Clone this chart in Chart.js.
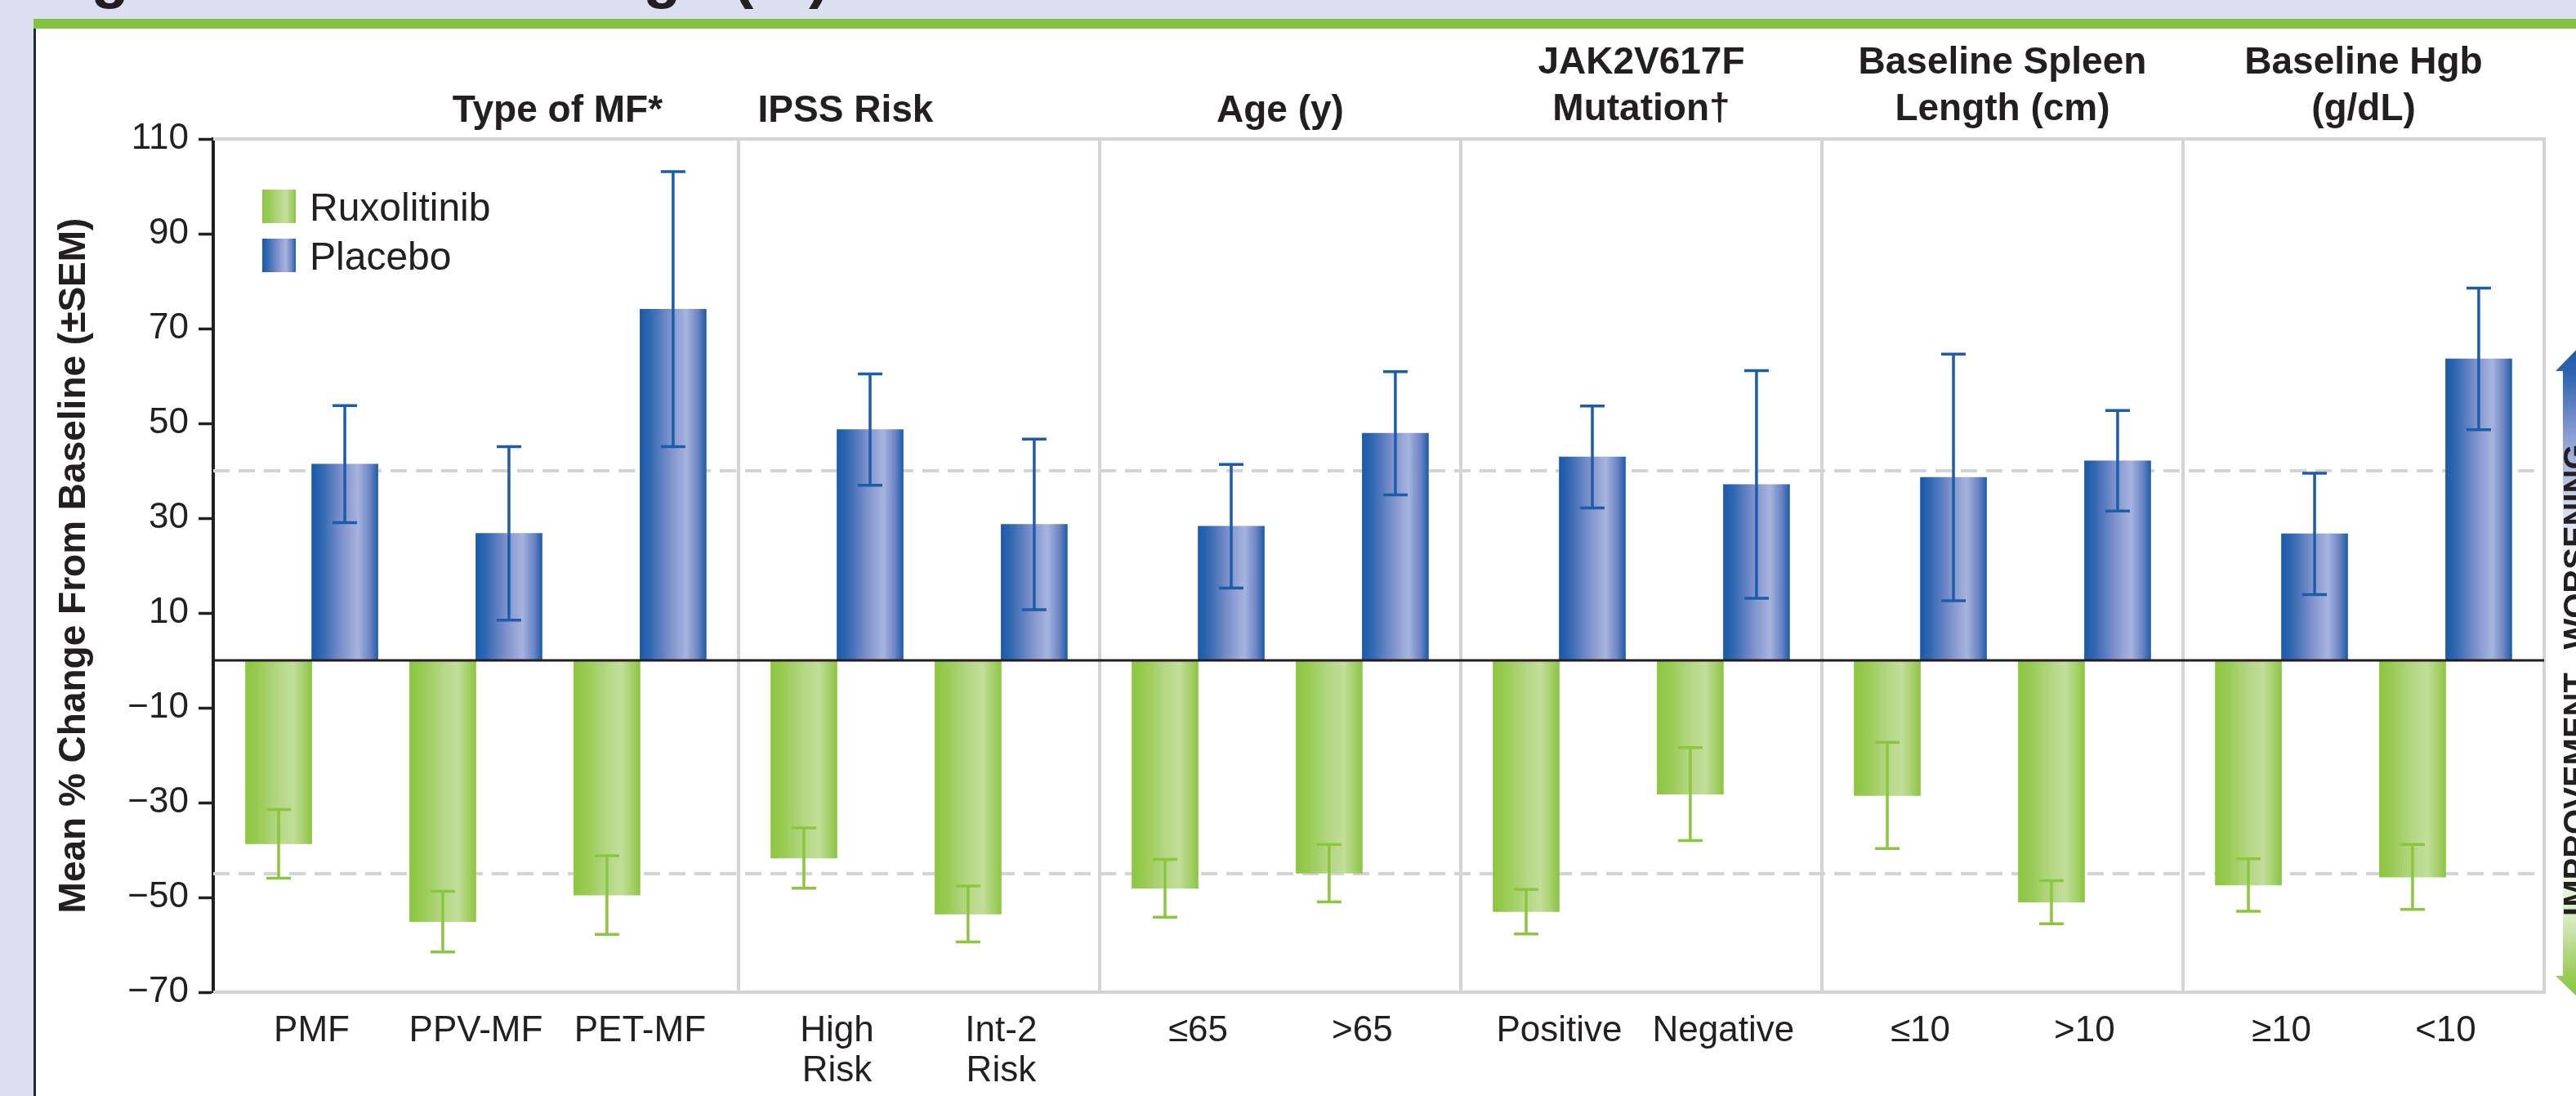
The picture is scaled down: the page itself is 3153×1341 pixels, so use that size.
<!DOCTYPE html>
<html>
<head>
<meta charset="utf-8">
<script src="https://cdn.jsdelivr.net/npm/chart.js@4.4.1/dist/chart.umd.min.js"></script>
<style>
  html, body { margin: 0; padding: 0; }
  body { width: 3153px; height: 1341px; overflow: hidden; background: #dbdff0; position: relative; }
  #band { position: absolute; left: 41px; top: 23px; right: 0; height: 12px; background: #84c341; }
  #panel { position: absolute; left: 41px; top: 35px; right: 0; bottom: 0; background: #fff; border-left: 3px solid #1d2b3c; }
  canvas { position: absolute; left: 0; top: 0; }
</style>
</head>
<body>
<div id="band"></div>
<div id="panel"></div>
<canvas id="myChart" width="3153" height="1341"></canvas>
<script>
var categories = ['PMF', 'PPV-MF', 'PET-MF', ['High', 'Risk'], ['Int-2', 'Risk'], '≤65', '>65',
  'Positive', 'Negative', '≤10', '>10', '≥10', '<10'];
var groupTitles = [['Type of MF*'], ['IPSS Risk'], ['Age (y)'], ['JAK2V617F', 'Mutation†'],
  ['Baseline Spleen', 'Length (cm)'], ['Baseline Hgb', '(g/dL)']];
var groupSizes = [3, 2, 2, 2, 2, 2];

var ruxMean = [-38.7, -55.1, -49.5, -41.7, -53.5, -48.1, -44.9, -53.0, -28.2, -28.5, -51.0, -47.4, -45.7];
var ruxSem = [7.25, 6.4, 8.3, 6.35, 5.9, 6.1, 6.05, 4.7, 9.8, 11.2, 4.55, 5.55, 6.85];
var placeboMean = [41.4, 26.8, 74.1, 48.7, 28.7, 28.3, 47.9, 42.9, 37.1, 38.6, 42.1, 26.7, 63.6];
var placeboSem = [12.35, 18.3, 29.0, 11.75, 18.0, 13.05, 13.0, 10.75, 24.0, 26.0, 10.6, 12.8, 14.95];

var refLines = [40, -45];
var yTicks = [-70, -50, -30, -10, 10, 30, 50, 70, 90, 110];

// layout bits
var BAR_W = 81;
var INK = '#231f20';
var GRAY = '#d3d4d6';

// slot positions: one unit per pair, a bit of extra room between groups
var groupOf = [];
groupSizes.forEach(function (n, g) {
  for (var k = 0; k < n; k++) groupOf.push(g);
});
var slotPos = categories.map(function (c, i) { return i + 0.2 * groupOf[i]; });

var greenStops = [[0, '#8cc63f'], [0.2, '#9acb55'], [0.5, '#b4d784'], [0.72, '#c2de99'], [0.88, '#a6cf6c'], [1, '#8cc63f']];
var blueStops = [[0, '#1a5aa9'], [0.15, '#3067b1'], [0.45, '#7d90cb'], [0.7, '#a7b4de'], [0.88, '#6b84c3'], [1, '#1d5ca9']];

function hFill(ctx, left, width, stops) {
  var g = ctx.createLinearGradient(left, 0, left + width, 0);
  stops.forEach(function (s) { g.addColorStop(s[0], s[1]); });
  return g;
}

function barColor(stops, side) {
  return function (c) {
    var chart = c.chart;
    if (c.type !== 'data' || !chart.chartArea) return stops[0][1];
    var x = chart.scales.x.getPixelForValue(slotPos[c.dataIndex]);
    return hFill(chart.ctx, side < 0 ? x - BAR_W : x, BAR_W, stops);
  };
}

function fmtTick(v) {
  return v < 0 ? '\u2212' + Math.abs(v) : String(v);
}

var decor = {
  id: 'decor',
  beforeDatasetsDraw: function (chart) {
    var ctx = chart.ctx, a = chart.chartArea, xs = chart.scales.x, ys = chart.scales.y;
    ctx.save();
    // dashed reference lines
    ctx.strokeStyle = GRAY;
    ctx.lineWidth = 4;
    ctx.setLineDash([20, 11]);
    refLines.forEach(function (v) {
      var y = ys.getPixelForValue(v);
      ctx.beginPath(); ctx.moveTo(a.left, y); ctx.lineTo(a.right, y); ctx.stroke();
    });
    ctx.setLineDash([]);
    // group separators
    var idx = -1;
    groupSizes.forEach(function (n, g) {
      idx += n;
      if (g === groupSizes.length - 1) return;
      var x = xs.getPixelForValue(slotPos[idx] + 0.6);
      ctx.beginPath(); ctx.moveTo(x, a.top); ctx.lineTo(x, a.bottom); ctx.stroke();
    });
    // frame: top, right, bottom
    ctx.beginPath();
    ctx.moveTo(a.left, a.top); ctx.lineTo(a.right, a.top); ctx.lineTo(a.right, a.bottom); ctx.lineTo(a.left, a.bottom);
    ctx.stroke();
    ctx.restore();
  },
  afterDatasetsDraw: function (chart) {
    var ctx = chart.ctx, a = chart.chartArea, ys = chart.scales.y;
    ctx.save();
    // zero line
    var y0 = ys.getPixelForValue(0);
    ctx.strokeStyle = INK;
    ctx.lineWidth = 3;
    ctx.beginPath(); ctx.moveTo(a.left, y0); ctx.lineTo(a.right, y0); ctx.stroke();
    // error bars
    chart.data.datasets.forEach(function (ds, di) {
      var meta = chart.getDatasetMeta(di);
      ctx.strokeStyle = ds.errColor;
      ctx.lineWidth = 3.5;
      meta.data.forEach(function (bar, i) {
        var m = ds.data[i].y, s = ds.sem[i];
        var yTop = ys.getPixelForValue(m + s), yBot = ys.getPixelForValue(m - s);
        ctx.beginPath();
        ctx.moveTo(bar.x, yTop); ctx.lineTo(bar.x, yBot);
        ctx.moveTo(bar.x - 15, yTop); ctx.lineTo(bar.x + 15, yTop);
        ctx.moveTo(bar.x - 15, yBot); ctx.lineTo(bar.x + 15, yBot);
        ctx.stroke();
      });
    });
    ctx.restore();
  },
  afterDraw: function (chart) {
    var ctx = chart.ctx, xs = chart.scales.x;
    ctx.save();
    ctx.fillStyle = INK;

    // cut-off figure title at the very top
    ctx.font = 'bold 76px "Liberation Sans"';
    ctx.textAlign = 'left';
    ctx.textBaseline = 'alphabetic';
    ctx.fillText('Figure 2. Mean Change (%)', 44, -5);

    // group headings
    var titleShift = [100, -90, 0, 0, 0, 0];
    ctx.font = 'bold 46px "Liberation Sans"';
    ctx.textAlign = 'center';
    var start = 0;
    groupSizes.forEach(function (n, g) {
      var mid = (slotPos[start] + slotPos[start + n - 1]) / 2;
      var cx = xs.getPixelForValue(mid) + titleShift[g];
      var lines = groupTitles[g];
      var base = lines.length > 1 ? 90 : 149;
      lines.forEach(function (t, k) { ctx.fillText(t, cx, base + k * 57); });
      start += n;
    });

    // legend
    chart.data.datasets.forEach(function (ds, di) {
      var top = di === 0 ? 232 : 292;
      ctx.fillStyle = hFill(ctx, 321, 41, ds.stops);
      ctx.fillRect(321, top, 41, 41);
      ctx.fillStyle = INK;
      ctx.font = '48px "Liberation Sans"';
      ctx.textAlign = 'left';
      ctx.fillText(ds.label, 379, top + 38);
    });

    // worsening / improvement arrow at the right edge
    var cx = 3157, half = 20, head = 29, tip = 424, tBase = 454, bTip = 1222, bBase = 1194;
    var g = ctx.createLinearGradient(0, tip, 0, bTip);
    g.addColorStop(0, '#1f5dab');
    g.addColorStop(0.04, '#2c63b0');
    g.addColorStop(0.14, '#8d9fd5');
    g.addColorStop(0.25, '#d5dcf0');
    g.addColorStop(0.35, '#ffffff');
    g.addColorStop(0.78, '#ffffff');
    g.addColorStop(0.88, '#d6e9bf');
    g.addColorStop(0.96, '#9ccd5a');
    g.addColorStop(1, '#8cc63f');
    ctx.fillStyle = g;
    ctx.beginPath();
    ctx.moveTo(cx, tip);
    ctx.lineTo(cx + head, tBase); ctx.lineTo(cx + half, tBase);
    ctx.lineTo(cx + half, bBase); ctx.lineTo(cx + head, bBase);
    ctx.lineTo(cx, bTip);
    ctx.lineTo(cx - head, bBase); ctx.lineTo(cx - half, bBase);
    ctx.lineTo(cx - half, tBase); ctx.lineTo(cx - head, tBase);
    ctx.closePath();
    ctx.fill();

    ctx.fillStyle = INK;
    ctx.font = 'bold 40px "Liberation Sans"';
    ctx.textAlign = 'center';
    ctx.textBaseline = 'middle';
    [['WORSENING', 669], ['IMPROVEMENT', 972]].forEach(function (w) {
      ctx.save();
      ctx.translate(3155, w[1]);
      ctx.rotate(-Math.PI / 2);
      ctx.fillText(w[0], 0, 0);
      ctx.restore();
    });
    ctx.restore();
  }
};

Chart.defaults.font.family = '"Liberation Sans", Arial, sans-serif';
Chart.defaults.color = INK;

var ctx = document.getElementById('myChart');

var myChart = new Chart(ctx, {
  type: 'bar',
  data: {
    datasets: [{
      label: 'Ruxolitinib',
      data: slotPos.map(function (p, i) { return { x: p, y: ruxMean[i] }; }),
      sem: ruxSem,
      stops: greenStops,
      errColor: '#8cc63f',
      backgroundColor: barColor(greenStops, -1),
      borderWidth: 0,
      barThickness: BAR_W
    }, {
      label: 'Placebo',
      data: slotPos.map(function (p, i) { return { x: p, y: placeboMean[i] }; }),
      sem: placeboSem,
      stops: blueStops,
      errColor: '#1b5dab',
      backgroundColor: barColor(blueStops, 1),
      borderWidth: 0,
      barThickness: BAR_W
    }]
  },
  options: {
    responsive: false,
    animation: false,
    devicePixelRatio: 1,
    layout: { padding: { left: 0, top: 170, right: 39, bottom: 0 } },
    plugins: {
      legend: { display: false },
      tooltip: { enabled: false }
    },
    scales: {
      x: {
        type: 'linear',
        offset: false,
        min: -0.6,
        max: slotPos[slotPos.length - 1] + 0.6,
        afterBuildTicks: function (s) {
          s.ticks = slotPos.map(function (p) { return { value: p }; });
        },
        afterFit: function (s) { s.height = 127; },
        grid: { display: false, drawTicks: false },
        border: { display: false },
        ticks: {
          autoSkip: false,
          maxRotation: 0,
          minRotation: 0,
          padding: 24,
          font: { size: 44, lineHeight: 1.1 },
          color: INK,
          callback: function (v, i) { return categories[i]; }
        }
      },
      y: {
        min: -70,
        max: 110,
        afterBuildTicks: function (s) {
          s.ticks = yTicks.map(function (v) { return { value: v }; });
        },
        afterFit: function (s) { s.width = 261; },
        grid: { drawOnChartArea: false, drawTicks: true, tickLength: 18, tickWidth: 3.5, tickColor: INK },
        border: { display: true, color: INK, width: 4 },
        ticks: {
          padding: 12,
          font: { size: 44 },
          color: INK,
          callback: fmtTick
        },
        title: {
          display: true,
          text: 'Mean % Change From Baseline (±SEM)',
          font: { size: 46, weight: 'bold' },
          color: INK,
          padding: { top: 64, bottom: 0 }
        }
      }
    }
  },
  plugins: [decor]
});
</script>
</body>
</html>
